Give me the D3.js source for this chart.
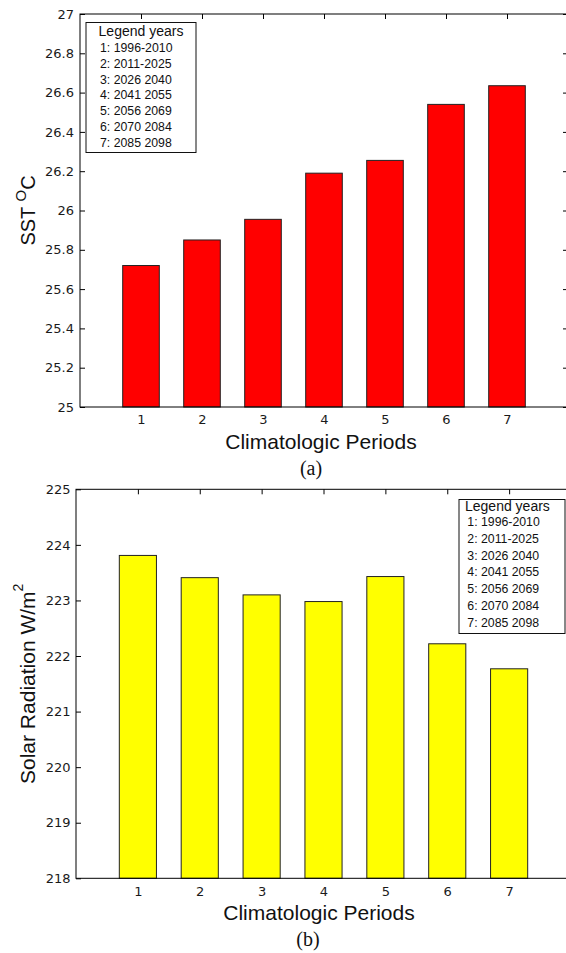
<!DOCTYPE html>
<html>
<head>
<meta charset="utf-8">
<script src="https://cdn.jsdelivr.net/npm/d3@7/dist/d3.min.js"></script>
<style>
  html, body { margin: 0; padding: 0; background: #ffffff; }
  svg { display: block; }
</style>
</head>
<body>
<script>
// ---------------- DATA ----------------
const periods = [1, 2, 3, 4, 5, 6, 7];
const sstValues = [25.72, 25.85, 25.955, 26.19, 26.255, 26.54, 26.635];
const solarValues = [223.81, 223.41, 223.10, 222.98, 223.43, 222.22, 221.77];
const sstTicks = [25, 25.2, 25.4, 25.6, 25.8, 26, 26.2, 26.4, 26.6, 26.8, 27];
const solarTicks = [218, 219, 220, 221, 222, 223, 224, 225];
const legendTitle = "Legend years";
const legendEntries = ["1: 1996-2010", "2: 2011-2025", "3: 2026 2040", "4: 2041 2055",
                       "5: 2056 2069", "6: 2070 2084", "7: 2085 2098"];
const xLabel = "Climatologic Periods";

// ---------------- LAYOUT ----------------
const W = 566, H = 953;
const svg = d3.select("body").append("svg").attr("width", W).attr("height", H);
svg.append("rect").attr("width", W).attr("height", H).attr("fill", "#ffffff");

const panels = [
  { values: sstValues, ticks: sstTicks, domain: [25, 27], fill: "#ff0000",
    left: 80, right: 568, top: 14, bottom: 407, yPad: 6,
    legend: { x: 86, y: 22.5, w: 110, h: 130, titleX: 141, titleY: 35.5, titleAnchor: "middle",
              entryX: 100, entryY: 52.3, step: 15.7 },
    yLabel: [{ t: "SST ", s: 20, dy: 0 }, { t: "O", s: 15, dy: -9 }, { t: "C", s: 20, dy: 9 }],
    yLabelX: 35, panelTag: "(a)", tagY: 475, tagX: 311 },
  { values: solarValues, ticks: solarTicks, domain: [218, 225], fill: "#ffff00",
    left: 76, right: 571, top: 489.3, bottom: 878.3, yPad: 5.5,
    legend: { x: 459, y: 499.5, w: 106, h: 134, titleX: 465, titleY: 510.5, titleAnchor: "start",
              entryX: 467.3, entryY: 526, step: 16.8 },
    yLabel: [{ t: "Solar Radiation W/m", s: 21, dy: 0 }, { t: "2", s: 14, dy: -12 }],
    yLabelX: 35, panelTag: "(b)", tagY: 946, tagX: 308 }
];

const tickFont = "'DejaVu Sans', sans-serif";
const labelFont = "'Liberation Sans', Arial, sans-serif";

panels.forEach(p => {
  const g = svg.append("g");
  const x = d3.scaleLinear().domain([0, 8]).range([p.left, p.right]);
  const y = d3.scaleLinear().domain(p.domain).range([p.bottom, p.top]);

  // axes (ticks inward)
  const styleAxis = sel => {
    sel.select(".domain").remove();
    sel.selectAll(".tick line").attr("stroke", "#000").attr("stroke-width", 1);
    sel.selectAll(".tick text").attr("fill", "#1a1a1a")
      .style("font-family", tickFont).style("font-size", "13px");
  };
  g.append("g").attr("transform", `translate(${p.left},0)`)
    .call(d3.axisLeft(y).tickValues(p.ticks).tickSizeInner(-5).tickSizeOuter(0)
      .tickPadding(p.yPad).tickFormat(d3.format("~g")))
    .call(styleAxis);
  g.append("g").attr("transform", `translate(${p.right},0)`)
    .call(d3.axisRight(y).tickValues(p.ticks).tickSizeInner(-5).tickSizeOuter(0).tickFormat(""))
    .call(styleAxis);
  g.append("g").attr("transform", `translate(0,${p.top})`)
    .call(d3.axisTop(x).tickValues(periods).tickSizeInner(-5).tickSizeOuter(0).tickFormat(""))
    .call(styleAxis);
  g.append("g").attr("transform", `translate(0,${p.bottom})`)
    .call(d3.axisBottom(x).tickValues(periods).tickSizeInner(-5).tickSizeOuter(0)
      .tickPadding(8).tickFormat(d3.format("d")))
    .call(styleAxis);

  // bars
  g.append("g").selectAll("rect").data(periods).join("rect")
    .attr("x", (d) => x(d - 0.3))
    .attr("width", (d) => x(d + 0.3) - x(d - 0.3))
    .attr("y", (d, i) => y(p.values[i]))
    .attr("height", (d, i) => y(p.domain[0]) - y(p.values[i]))
    .attr("fill", p.fill).attr("stroke", "#222").attr("stroke-width", 1);

  // frame
  g.append("rect").attr("x", p.left).attr("y", p.top)
    .attr("width", p.right - p.left).attr("height", p.bottom - p.top)
    .attr("fill", "none").attr("stroke", "#000").attr("stroke-width", 1);

  // legend
  const L = p.legend;
  g.append("rect").attr("x", L.x).attr("y", L.y).attr("width", L.w).attr("height", L.h)
    .attr("fill", "#fff").attr("stroke", "#111").attr("stroke-width", 1);
  g.append("text").attr("x", L.titleX).attr("y", L.titleY).attr("text-anchor", L.titleAnchor)
    .style("font-family", labelFont).style("font-size", "14px").attr("fill", "#111")
    .text(legendTitle);
  g.append("g").selectAll("text").data(legendEntries).join("text")
    .attr("x", L.entryX).attr("y", (d, i) => L.entryY + i * L.step)
    .style("font-family", labelFont).style("font-size", "12.3px").attr("fill", "#111")
    .text(d => d);

  // x label
  g.append("text").attr("x", (p.left + 568) / 2 - 3).attr("y", p.bottom + 42)
    .attr("text-anchor", "middle").style("font-family", labelFont).style("font-size", "21px")
    .attr("fill", "#111").text(xLabel);

  // y label
  const yl = g.append("text")
    .attr("transform", `translate(${p.yLabelX},${(p.top + p.bottom) / 2}) rotate(-90)`)
    .attr("text-anchor", "middle").style("font-family", labelFont).attr("fill", "#111");
  p.yLabel.forEach(part => {
    yl.append("tspan").attr("dy", part.dy).style("font-size", part.s + "px").text(part.t);
  });

  // panel tag
  g.append("text").attr("x", p.tagX).attr("y", p.tagY).attr("text-anchor", "middle")
    .style("font-family", "'Liberation Serif', 'Times New Roman', serif").style("font-size", "20px")
    .attr("fill", "#111").text(p.panelTag);
});
</script>
</body>
</html>
